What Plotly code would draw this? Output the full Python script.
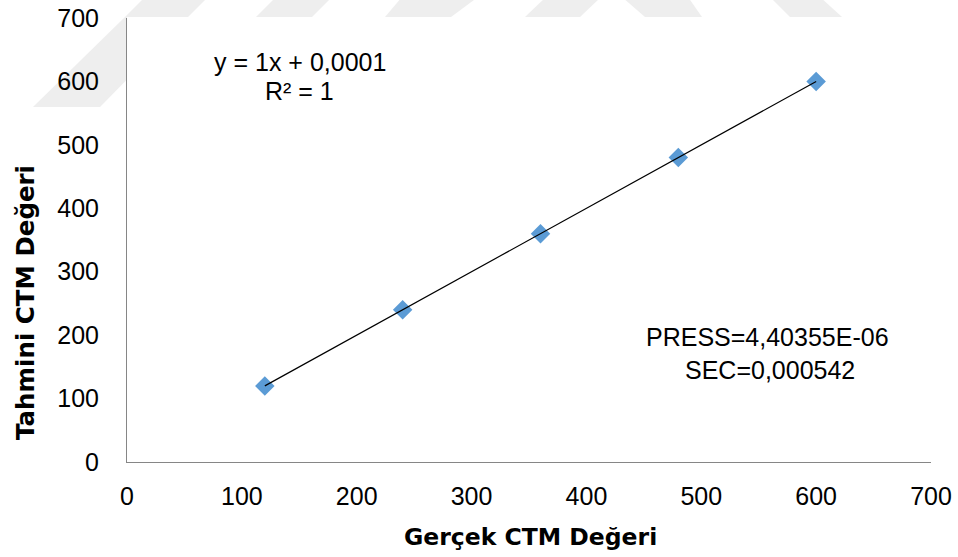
import plotly.graph_objects as go

# Measured vs. predicted CTM values
gercek = [120, 240, 360, 480, 600]
tahmini = [120, 240, 360, 480, 600]

# Linear trendline coefficients (as printed on the chart)
egim = 1.0
kesim = 0.0001

tick_vals = [0, 100, 200, 300, 400, 500, 600, 700]

W, H = 958, 557
ML, MR, MT, MB = 127, 27, 18, 95
PW, PH = W - ML - MR, H - MT - MB


def px(x):
    return (x - ML) / PW


def py(y):
    return (H - MB - y) / PH


fig = go.Figure()

fig.add_trace(go.Scatter(
    x=gercek, y=tahmini, mode="markers",
    marker=dict(symbol="diamond", size=15, color="#5b9bd5", line=dict(width=0)),
    showlegend=False, hoverinfo="x+y",
))

x_fit = [min(gercek), max(gercek)]
y_fit = [egim * v + kesim for v in x_fit]
fig.add_trace(go.Scatter(
    x=x_fit, y=y_fit, mode="lines",
    line=dict(color="#000000", width=1.2),
    showlegend=False, hoverinfo="skip",
))

# faint background watermark bands (pixel polygons, outside the plotting area only)
bands = [
    [(145, -3), (208, -3), (188, 17), (125, 17)],
    [(125, 17), (127, 17), (127, 79.5), (100, 107), (33, 107)],
    [(276, -3), (332, -3), (312, 17), (256, 17)],
    [(402, -3), (478, -3), (451, 17), (385, 17)],
    [(546, -3), (601, -3), (580, 17), (525, 17)],
    [(622, -3), (688, -3), (702, 17), (645, 17)],
    [(770, -3), (820, -3), (842, 17), (790, 17)],
]
for poly in bands:
    path = "M " + " L ".join(f"{px(a):.5f},{py(b):.5f}" for a, b in poly) + " Z"
    fig.add_shape(type="path", path=path, xref="paper", yref="paper",
                  fillcolor="#eeeeee", line=dict(width=0), layer="below")

txt_font = dict(family="Liberation Sans, Arial, sans-serif", size=25, color="#000000")
title_font = dict(family="DejaVu Sans, Verdana, sans-serif", color="#000000", weight="bold")

annos = [
    ("y = 1x + 0,0001", 300, 62),
    ("R² = 1", 299, 91),
    ("PRESS=4,40355E-06", 767, 337),
    ("SEC=0,000542", 770, 370),
]
for t, ax_, ay_ in annos:
    fig.add_annotation(text=t, x=px(ax_), y=py(ay_), xref="paper", yref="paper",
                       showarrow=False, xanchor="center", yanchor="middle", font=txt_font)

fig.add_annotation(text="Gerçek CTM Değeri", x=px(530), y=py(537), xref="paper", yref="paper",
                   showarrow=False, xanchor="center", yanchor="middle",
                   font=dict(size=23.5, **title_font))
fig.add_annotation(text="Tahmini CTM Değeri", x=px(25), y=py(303), xref="paper", yref="paper",
                   showarrow=False, xanchor="center", yanchor="middle", textangle=-90,
                   font=dict(size=24.5, **title_font))

fig.update_xaxes(range=[0, 700], tickvals=tick_vals, showgrid=False, zeroline=False,
                 showline=True, linecolor="#868686", linewidth=1, ticks="",
                 ticklabelstandoff=12, tickfont=txt_font, fixedrange=True)
fig.update_yaxes(range=[0, 700], tickvals=tick_vals, showgrid=False, zeroline=False,
                 showline=True, linecolor="#868686", linewidth=1, ticks="",
                 ticklabelstandoff=22, tickfont=txt_font, fixedrange=True)

fig.update_layout(
    width=W, height=H,
    margin=dict(l=ML, r=MR, t=MT, b=MB, autoexpand=False),
    paper_bgcolor="#ffffff", plot_bgcolor="#ffffff",
    showlegend=False,
)

fig.write_html("out.html", config={"displayModeBar": False})
